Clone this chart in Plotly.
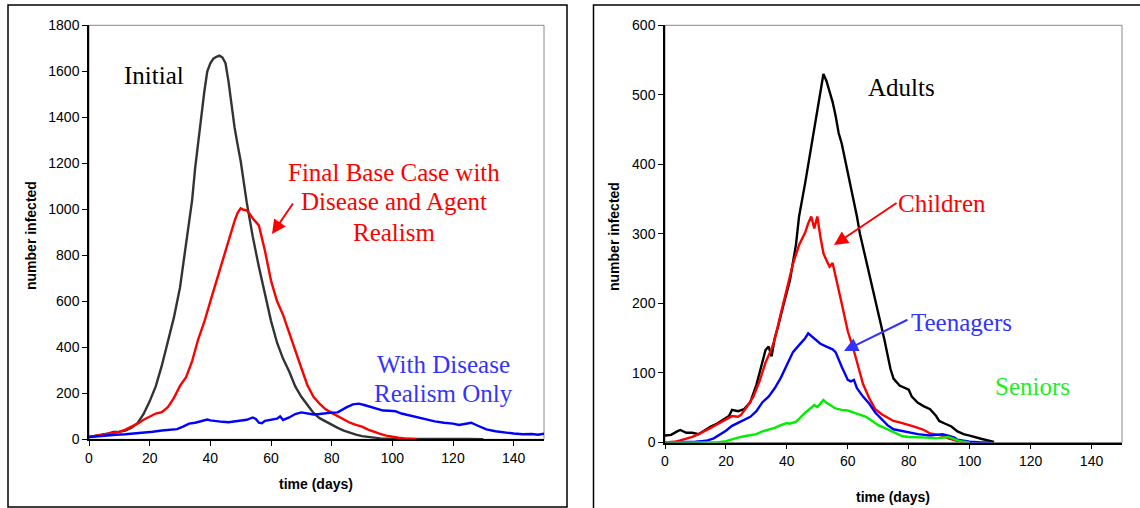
import plotly.graph_objects as go

W, H = 1140, 508

# ---------------- Left panel data ----------------
initial_days = [0, 2, 4, 6, 8, 10, 12, 14, 16, 18, 20, 22, 24, 26, 28, 30, 32, 34, 35, 36, 37, 38, 39, 40, 41, 42,
                43, 44, 45, 46, 47, 48, 49, 50, 52, 54, 56, 58, 60, 62, 64, 66, 68, 70, 72, 74, 76, 78, 80, 82, 84,
                86, 88, 90, 92, 94, 96, 98, 100, 105, 110, 115, 120, 125, 130]
initial_vals = [10, 14, 20, 24, 32, 33, 38, 50, 70, 110, 165, 230, 320, 420, 530, 660, 850, 1040, 1180, 1300, 1400,
                1510, 1600, 1635, 1655, 1663, 1668, 1660, 1635, 1555, 1450, 1355, 1280, 1210, 1030, 880, 750, 630,
                515, 420, 350, 295, 230, 185, 150, 115, 92, 78, 62, 50, 38, 28, 20, 14, 10, 6, 4, 3, 2, 1, 1, 2, 3,
                2, 0]

final_days = [0, 2, 4, 6, 8, 10, 12, 14, 16, 18, 20, 22, 24, 26, 28, 30, 32, 34, 36, 38, 40, 42, 44, 46, 48, 49, 50,
              51, 52, 53, 54, 56, 57, 58, 60, 62, 64, 66, 68, 70, 72, 74, 76, 78, 80, 82, 84, 86, 88, 90, 92, 94,
              96, 98, 100, 102, 104, 106, 108]
final_vals = [10, 14, 18, 22, 26, 32, 42, 55, 68, 85, 100, 112, 118, 140, 180, 232, 270, 340, 435, 510, 600, 690,
              770, 860, 950, 985, 1004, 998, 995, 980, 960, 930, 880, 820, 690, 600, 540, 460, 380, 310, 235, 185,
              155, 130, 115, 100, 85, 72, 63, 55, 42, 32, 24, 16, 10, 7, 4, 2, 0]

disease_days = [0, 3, 6, 9, 12, 15, 18, 21, 24, 27, 29, 31, 33, 35, 37, 39, 40, 42, 44, 46, 48, 50, 52, 54, 55, 56,
                57, 58, 60, 62, 63, 64, 66, 68, 70, 72, 74, 76, 78, 80, 82, 83, 85, 87, 89, 91, 93, 95, 97, 99, 101,
                103, 105, 108, 111, 114, 117, 120, 122, 124, 126, 128, 131, 134, 137, 140, 143, 146, 148, 150]
disease_vals = [10, 14, 18, 20, 22, 25, 28, 33, 38, 42, 44, 55, 68, 72, 78, 86, 82, 78, 76, 74, 78, 80, 85, 95, 88,
                72, 70, 80, 86, 90, 100, 84, 95, 110, 117, 113, 108, 110, 114, 116, 117, 125, 140, 152, 155, 148,
                140, 130, 125, 124, 122, 112, 106, 95, 85, 78, 72, 68, 62, 66, 72, 60, 43, 35, 29, 25, 22, 23, 20, 24]

# ---------------- Right panel data ----------------
adult_days = [0, 2, 4, 5, 7, 9, 11, 13, 15, 17, 19, 21, 22, 24, 26, 28, 30, 32, 33, 34, 35, 36, 37, 39, 41, 43, 44,
              46, 48, 49, 51, 52, 53, 54, 55, 56, 57, 58, 59, 60, 61, 62, 63, 64, 66, 68, 70, 72, 74, 75, 77, 80,
              81, 83, 85, 87, 89, 90, 92, 94, 96, 98, 100, 102, 104, 106, 108]
adult_vals = [10, 11, 16, 18, 14, 14, 12, 18, 23, 27, 32, 38, 47, 45, 48, 58, 83, 115, 133, 138, 124, 150, 165, 200,
              233, 285, 325, 373, 425, 450, 500, 530, 520, 505, 490, 470, 445, 430, 410, 390, 365, 345, 325, 300,
              262, 225, 190, 148, 106, 92, 82, 76, 66, 57, 52, 48, 38, 31, 27, 23, 16, 12, 10, 7, 5, 3, 1]

child_days = [0, 3, 5, 7, 9, 11, 13, 15, 17, 19, 21, 22, 24, 25, 27, 29, 31, 33, 35, 36, 38, 40, 42, 44, 46, 47, 48,
              49, 50, 51, 52, 53, 54, 55, 56, 58, 60, 62, 64, 65, 67, 69, 71, 73, 75, 77, 79, 81, 83, 85, 87, 89,
              91, 93, 95, 97, 100]
child_vals = [0, 1, 3, 5, 8, 12, 16, 21, 26, 31, 36, 38, 37, 40, 52, 66, 88, 115, 135, 148, 185, 219, 257, 284, 302,
              315, 325, 308, 325, 296, 272, 262, 253, 258, 240, 200, 160, 132, 100, 84, 64, 48, 41, 36, 31, 29, 27,
              24, 21, 18, 13, 12, 10, 6, 3, 1, 0]

teen_days = [0, 5, 10, 12, 14, 16, 18, 20, 22, 24, 26, 28, 30, 32, 34, 36, 38, 40, 42, 44, 46, 47, 48, 49, 51, 53,
             55, 56, 57, 58, 60, 61, 62, 63, 65, 67, 69, 71, 73, 75, 77, 79, 81, 83, 85, 87, 89, 91, 93, 95, 96, 98,
             100, 104, 107]
teen_vals = [0, 0, 1, 2, 3, 6, 11, 17, 24, 28, 32, 37, 45, 58, 66, 78, 93, 112, 130, 140, 150, 157, 153, 149, 142,
             138, 134, 130, 118, 109, 90, 88, 90, 78, 66, 56, 43, 34, 25, 19, 17, 15, 14, 12, 11, 10, 11, 12, 10, 7,
             4, 2, 1, 0, 0]

senior_days = [0, 10, 17, 20, 22, 24, 26, 28, 30, 32, 34, 36, 38, 40, 41, 43, 44, 45, 46, 48, 49, 50, 51, 52, 53, 54,
               56, 58, 60, 62, 64, 66, 68, 70, 72, 74, 76, 78, 80, 83, 86, 89, 91, 93, 95, 96, 98, 100]
senior_vals = [0, 0, 0, 2, 5, 7, 9, 11, 12, 16, 18, 21, 25, 28, 27, 30, 34, 39, 43, 50, 54, 51, 56, 61, 57, 54, 49,
               47, 46, 43, 40, 37, 31, 25, 21, 17, 13, 9, 8, 8, 7, 6, 7, 8, 5, 3, 1, 0]

x_ticks = [0, 20, 40, 60, 80, 100, 120, 140]
left_y_ticks = [0, 200, 400, 600, 800, 1000, 1200, 1400, 1600, 1800]
right_y_ticks = [0, 100, 200, 300, 400, 500, 600]


def pxx(x):
    return x / W


def pxy(y):
    return 1 - y / H


LW = 2.4
fig = go.Figure()
fig.add_trace(go.Scatter(x=initial_days, y=initial_vals, mode="lines", line=dict(color="#333333", width=LW),
                         xaxis="x", yaxis="y", showlegend=False))
fig.add_trace(go.Scatter(x=final_days, y=final_vals, mode="lines", line=dict(color="#ff0000", width=LW),
                         xaxis="x", yaxis="y", showlegend=False))
fig.add_trace(go.Scatter(x=disease_days, y=disease_vals, mode="lines", line=dict(color="#0000ff", width=LW),
                         xaxis="x", yaxis="y", showlegend=False))

fig.add_trace(go.Scatter(x=adult_days, y=adult_vals, mode="lines", line=dict(color="#000000", width=LW),
                         xaxis="x2", yaxis="y2", showlegend=False))
fig.add_trace(go.Scatter(x=child_days, y=child_vals, mode="lines", line=dict(color="#ff0000", width=LW),
                         xaxis="x2", yaxis="y2", showlegend=False))
fig.add_trace(go.Scatter(x=teen_days, y=teen_vals, mode="lines", line=dict(color="#0000ff", width=LW),
                         xaxis="x2", yaxis="y2", showlegend=False))
fig.add_trace(go.Scatter(x=senior_days, y=senior_vals, mode="lines", line=dict(color="#00ee00", width=LW),
                         xaxis="x2", yaxis="y2", showlegend=False))

tickfont = dict(family="Arial, Liberation Sans, sans-serif", size=14, color="#000000")
axis_common = dict(showgrid=False, zeroline=False, showline=True, linecolor="#000000", linewidth=1.5,
                   ticks="outside", ticklen=5, tickwidth=1, tickcolor="#000000", tickfont=tickfont,
                   automargin=False, fixedrange=True)

fig.update_layout(
    template="none",
    width=W, height=H, autosize=False,
    margin=dict(l=0, r=0, t=0, b=0, pad=0),
    paper_bgcolor="white", plot_bgcolor="white",
    xaxis=dict(domain=[pxx(89), pxx(544)], range=[0, 150], tickvals=x_ticks, anchor="y", **axis_common),
    yaxis=dict(domain=[pxy(439.3), pxy(25.3)], range=[0, 1800], tickvals=left_y_ticks, anchor="x", **axis_common),
    xaxis2=dict(domain=[pxx(665), pxx(1122)], range=[0, 150], tickvals=x_ticks, anchor="y2", **axis_common),
    yaxis2=dict(domain=[pxy(442.5), pxy(25.3)], range=[0, 600], tickvals=right_y_ticks, anchor="x2", **axis_common),
)

shapes = [
    # outer frames
    dict(type="rect", xref="paper", yref="paper", x0=pxx(8), x1=pxx(567), y0=pxy(507), y1=pxy(5),
         line=dict(color="#000000", width=1.5), fillcolor="rgba(0,0,0,0)", layer="below"),
    dict(type="rect", xref="paper", yref="paper", x0=pxx(593.5), x1=pxx(1150), y0=pxy(515), y1=pxy(5),
         line=dict(color="#000000", width=1.5), fillcolor="rgba(0,0,0,0)", layer="below"),
    # gray plot-area borders
    dict(type="rect", xref="x domain", yref="y domain", x0=0, x1=1, y0=0, y1=1,
         line=dict(color="#888888", width=1), layer="below"),
    dict(type="rect", xref="x2 domain", yref="y2 domain", x0=0, x1=1, y0=0, y1=1,
         line=dict(color="#888888", width=1), layer="below"),
]
fig.update_layout(shapes=shapes)

serif = "Times New Roman, Liberation Serif, serif"
ann = []


def label(text, x, y, color, size=25):
    ann.append(dict(text=text, xref="paper", yref="paper", x=pxx(x), y=pxy(y), xanchor="center",
                    yanchor="middle", showarrow=False, font=dict(family=serif, size=size, color=color)))


label("Initial", 154, 76, "#000000")
label("Final Base Case with", 394, 172, "#ff0000")
label("Disease and Agent", 394, 202, "#ff0000")
label("Realism", 394, 232, "#ff0000")
label("With Disease", 443, 364, "#3333ff")
label("Realism Only", 443, 393, "#3333ff")
label("Adults", 901, 87, "#000000")
label("Children", 942, 204, "#ff0000")
label("Teenagers", 961, 322, "#3333ff")
label("Seniors", 1032, 386, "#22ee22")

# axis titles
bold = dict(family="Arial, Liberation Sans, sans-serif", size=14, color="#000000")
ann.append(dict(text="<b>time (days)</b>", xref="paper", yref="paper", x=pxx(316.5), y=pxy(484),
                xanchor="center", yanchor="middle", showarrow=False, font=bold))
ann.append(dict(text="<b>number infected</b>", xref="paper", yref="paper", x=pxx(31), y=pxy(236),
                xanchor="center", yanchor="middle", showarrow=False, textangle=-90, font=bold))
ann.append(dict(text="<b>time (days)</b>", xref="paper", yref="paper", x=pxx(893), y=pxy(497),
                xanchor="center", yanchor="middle", showarrow=False, font=bold))
ann.append(dict(text="<b>number infected</b>", xref="paper", yref="paper", x=pxx(614), y=pxy(237),
                xanchor="center", yanchor="middle", showarrow=False, textangle=-90, font=bold))


def arrow(x_head, y_head, x_tail, y_tail, color):
    ann.append(dict(text="", xref="paper", yref="paper", x=pxx(x_head), y=pxy(y_head),
                    ax=x_tail - x_head, ay=y_tail - y_head, showarrow=True, arrowhead=2, arrowsize=1.4,
                    arrowwidth=2, arrowcolor=color, standoff=0, startstandoff=0))


arrow(272, 234, 294, 202, "#ff0000")
arrow(834, 245, 898, 202, "#ff0000")
arrow(844, 351, 909, 319, "#3333ff")

fig.update_layout(annotations=ann)
fig.write_html("out.html", config={"displayModeBar": False},
               post_script="document.body.style.margin='0px';document.body.style.overflow='hidden';")
